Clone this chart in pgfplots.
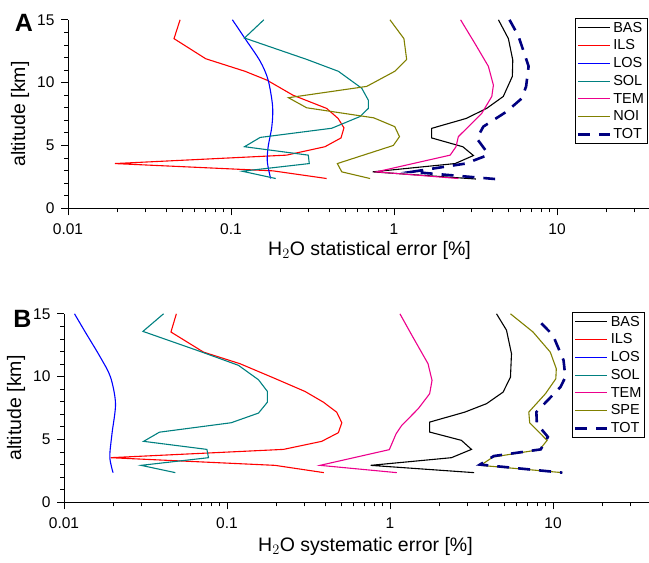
\documentclass[border=0pt]{standalone}
\usepackage{pgfplots}
\pgfplotsset{compat=1.18}
\usepackage{fontspec}
\setmainfont{Liberation Sans}
\definecolor{cTeal}{RGB}{0,128,128}
\definecolor{cOlive}{RGB}{128,128,0}
\definecolor{cNavy}{RGB}{0,0,128}
\pgfplotsset{
  myaxis/.style={
    scale only axis, width=603pt, height=188.5pt,
    xmin=0.01, xmax=50, ymin=0, ymax=15,
    axis x line=bottom, axis y line=left, axis line style={-, line width=0.8pt},
    xtick={0.01,0.1,1,10}, xticklabels={0.01,0.1,1,10},
    minor xtick={0.02,0.03,0.04,0.05,0.06,0.07,0.08,0.09,0.2,0.3,0.4,0.5,0.6,0.7,0.8,0.9,2,3,4,5,6,7,8,9,20,30,40},
    ytick={0,5,10,15}, minor ytick={1,2,3,4,6,7,8,9,11,12,13,14},
    tick align=outside, major tick length=7pt, minor tick length=4pt,
    every tick/.style={black, line width=0.8pt},
    /pgf/number format/assume math mode=true,
    tick label style={font=\fontsize{15.5}{17}\selectfont},
    xticklabel style={yshift=-5pt},
    yticklabel style={xshift=-3pt},
    label style={font=\fontsize{19.5}{21}\selectfont},
    ylabel={altitude [km]},
    ylabel style={at={(axis description cs:-0.0796,0.5)}, anchor=center},
    legend cell align=left,
    legend style={at={(axis description cs:1,1)}, anchor=north east, yshift=2pt,
      font=\fontsize{14.5}{16}\selectfont, inner sep=1.5pt, row sep=2.2pt, draw=black, very thick},
    legend image code/.code={\draw[#1] (0pt,0pt) -- (32pt,0pt);},
  },
  ln/.style={line width=1.1pt},
  totstyle/.style={cNavy, line width=2.6pt, dash pattern=on 12pt off 9pt},
}
\begin{document}
\begin{tikzpicture}[x=1pt,y=1pt]
\useasboundingbox (0,0) rectangle (649,563);
\begin{axis}[xmode=log, myaxis, at={(68pt,354.7pt)}, anchor=south west, xlabel={H$_2$O statistical error [\%]},
  xlabel style={at={(axis description cs:0.5,0)}, anchor=center, yshift=-42.5pt}, legend style={xshift=-23pt}]
\addplot[black, ln] coordinates {(4.37,15) (5.03,13.5) (5.35,11.8) (5.32,10.5) (4.68,8.9) (3.7,7.95) (2.77,7.15) (1.70,6.36) (1.70,5.6) (2.64,4.9) (3.07,4.2) (2.37,3.56) (0.74,2.9) (3.18,2.33)};
\addlegendentry{BAS}
\addplot[red, ln] coordinates {(0.0487,15) (0.0447,13.5) (0.070,11.9) (0.122,10.9) (0.166,10.2) (0.24,9.0) (0.386,7.95) (0.454,7.15) (0.493,6.4) (0.473,5.6) (0.377,4.9) (0.219,4.23) (0.0194,3.56) (0.181,2.98) (0.386,2.37)};
\addlegendentry{ILS}
\addplot[blue, ln, smooth] coordinates {(0.102,15) (0.122,13.5) (0.151,11.7) (0.169,10.2) (0.180,8.1) (0.178,6.5) (0.169,4.9) (0.167,3.7) (0.175,2.37)};
\addlegendentry{LOS}
\addplot[cTeal, ln] coordinates {(0.159,15) (0.121,13.55) (0.291,11.85) (0.456,10.9) (0.634,9.55) (0.696,8.6) (0.696,7.95) (0.618,7.3) (0.415,6.37) (0.151,5.64) (0.121,4.9) (0.298,4.23) (0.302,3.56) (0.117,2.95) (0.188,2.37)};
\addlegendentry{SOL}
\addplot[magenta, ln] coordinates {(2.56,15) (3.14,13.1) (3.79,11.3) (4.07,9.8) (3.98,8.9) (3.45,7.55) (2.79,6.36) (2.48,5.7) (2.4,4.9) (2.21,4.23) (0.78,2.9) (2.48,2.37)};
\addlegendentry{TEM}
\addplot[cOlive, ln] coordinates {(0.944,15) (1.15,13.5) (1.195,11.85) (1.01,10.9) (0.68,9.7) (0.225,8.8) (0.291,8.0) (0.75,7.2) (1.01,6.5) (1.08,5.7) (0.99,5.0) (0.449,3.56) (0.478,2.9) (0.713,2.37)};
\addlegendentry{NOI}
\addplot[totstyle] coordinates {(5.11,15) (5.8,13.7) (6.69,11.3) (6.46,9.7) (6.08,8.75) (4.91,7.7) (3.53,6.5) (3.22,5.55) (3.75,4.4) (3.7,4.2) (2.75,3.56) (1.28,2.9) (4.17,2.33)};
\addlegendentry{TOT}
\end{axis}
\begin{axis}[xmode=log, myaxis, at={(64pt,60.7pt)}, anchor=south west, xlabel={H$_2$O systematic error [\%]},
  xlabel style={at={(axis description cs:0.5,0)}, anchor=center, yshift=-44pt}, legend style={xshift=-21.5pt}]
\addplot[black, ln] coordinates {(4.5,15) (5.18,13.7) (5.56,11.82) (5.48,9.96) (4.94,8.77) (3.91,7.85) (2.88,7.18) (1.75,6.38) (1.75,5.59) (2.74,4.93) (3.16,4.21) (2.38,3.55) (0.76,2.94) (3.28,2.36)};
\addlegendentry{BAS}
\addplot[red, ln] coordinates {(0.0489,15) (0.0453,13.55) (0.0718,11.95) (0.12,11.03) (0.193,9.9) (0.301,8.82) (0.39,7.97) (0.471,7.17) (0.506,6.33) (0.482,5.54) (0.381,4.85) (0.222,4.21) (0.0193,3.55) (0.197,2.94) (0.393,2.36)};
\addlegendentry{ILS}
\addplot[blue, ln, smooth] coordinates {(0.0116,15) (0.0135,13.55) (0.0167,11.55) (0.0193,9.96) (0.0207,7.85) (0.0197,5.46) (0.0191,3.6) (0.02,2.36)};
\addlegendentry{LOS}
\addplot[cTeal, ln] coordinates {(0.0408,15) (0.0305,13.6) (0.0686,12.0) (0.1175,10.9) (0.156,9.75) (0.177,8.82) (0.177,7.97) (0.156,7.1) (0.106,6.33) (0.0385,5.58) (0.0308,4.85) (0.0753,4.21) (0.077,3.55) (0.0297,2.94) (0.0482,2.36)};
\addlegendentry{SOL}
\addplot[magenta, ln] coordinates {(1.15,15) (1.36,13.3) (1.71,11.03) (1.81,9.7) (1.75,8.64) (1.49,7.45) (1.18,6.12) (1.09,5.46) (0.99,4.19) (0.372,2.94) (1.1,2.36)};
\addlegendentry{TEM}
\addplot[cOlive, ln] coordinates {(5.48,15) (7.54,13.55) (9.62,11.95) (10.47,10.63) (10.4,9.83) (8.98,8.64) (7.1,7.18) (7.19,6.33) (9.19,4.93) (8.28,4.19) (4.28,3.6) (3.59,2.94) (11.4,2.36)};
\addlegendentry{SPE}
\addplot[totstyle] coordinates {(8.47,14.25) (9.98,13.3) (11.6,11.3) (11.9,9.96) (11.1,9.17) (7.9,7.18) (7.96,6.25) (9.3,5.2) (8.4,4.21) (4.33,3.68) (3.56,3.0) (11.4,2.36)};
\addlegendentry{TOT}
\end{axis}
\node[font=\bfseries\fontsize{25}{25}\selectfont] at (24,540.5) {A};
\node[font=\bfseries\fontsize{25}{25}\selectfont] at (22.5,244) {B};
\end{tikzpicture}
\end{document}
